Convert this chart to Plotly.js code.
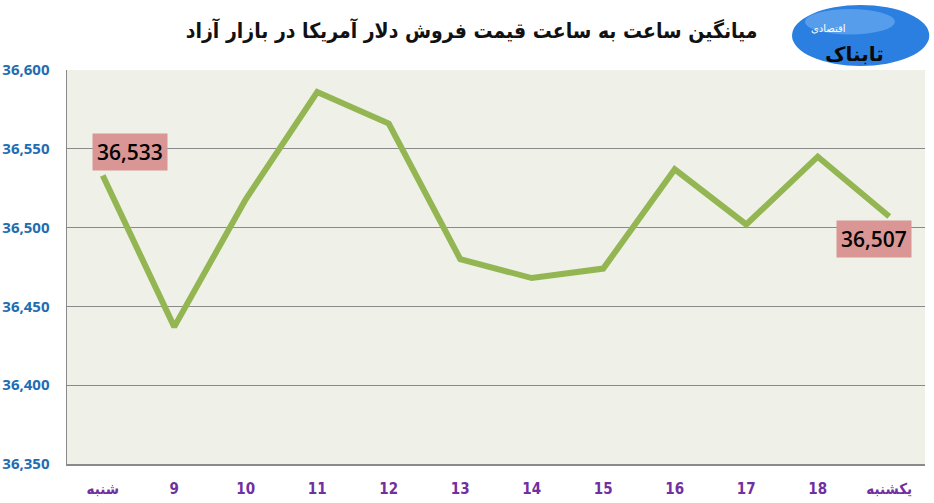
<!DOCTYPE html>
<html>
<head>
<meta charset="utf-8">
<script src="https://cdn.plot.ly/plotly-3.0.1.min.js"></script>
<style>html,body{margin:0;padding:0;background:#fff;}#chart{width:934px;height:503px;}</style>
</head>
<body>
<div id="chart"></div>
<script>
var categories = ["شنبه", "9", "10", "11", "12", "13", "14", "15", "16", "17", "18", "یکشنبه"];
var prices = [36533, 36437, 36518, 36586, 36566, 36480, 36468, 36474, 36537, 36502, 36545, 36507];
var yTicks = [36350, 36400, 36450, 36500, 36550, 36600];
var yTickLabels = ["36,350", "36,400", "36,450", "36,500", "36,550", "36,600"];
var titleText = "میانگین ساعت به ساعت قیمت فروش دلار آمریکا در بازار آزاد";

var trace = {
  x: categories,
  y: prices,
  type: "scatter",
  mode: "lines",
  line: {color: "#93b653", width: 6},
  hoverinfo: "skip"
};

function fmt(v){ return v.toLocaleString("en-US"); }
function bold(s){ return "<b>" + s + "</b>"; }
var last = prices.length - 1;

var layout = {
  width: 934, height: 503,
  margin: {l: 67, r: 9, t: 70, b: 39},
  paper_bgcolor: "#ffffff",
  plot_bgcolor: "#eff1e9",
  showlegend: false,
  title: {
    text: bold(titleText),
    font: {family: "DejaVu Sans Condensed", size: 21, color: "#111"},
    x: 0.505, xanchor: "center", y: 0.94, yanchor: "middle"
  },
  xaxis: {
    type: "category",
    range: [-0.5, 11.5],
    tickvals: categories,
    ticktext: categories.map(bold),
    showgrid: false,
    showline: true, linecolor: "#8a8a8a", linewidth: 1.5,
    ticks: "",
    tickfont: {family: "DejaVu Sans Condensed", size: 15, color: "#7030a0"},
    ticklabelstandoff: 10,
    zeroline: false
  },
  yaxis: {
    range: [36350, 36600],
    tickvals: yTicks,
    ticktext: yTickLabels.map(bold),
    showgrid: true, gridcolor: "#8a8a8a", gridwidth: 1,
    showline: true, linecolor: "#8a8a8a", linewidth: 1.5,
    ticks: "",
    ticklabelstandoff: 13,
    tickfont: {family: "Open Sans", size: 15, color: "#1f6db2"},
    zeroline: false
  },
  annotations: [
    {x: 0, y: prices[0], xref: "x", yref: "y", text: fmt(prices[0]), showarrow: false,
     xshift: 27, yshift: 24, bgcolor: "#d99694", borderpad: 4,
     font: {family: "Open Sans", size: 21, color: "#000", weight: 600}},
    {x: last, y: prices[last], xref: "x", yref: "y", text: fmt(prices[last]), showarrow: false,
     xshift: -15, yshift: -22, bgcolor: "#d99694", borderpad: 4,
     font: {family: "Open Sans", size: 21, color: "#000", weight: 600}},
    {x: 0.955, y: 1.075, xref: "paper", yref: "paper", text: "<b>تابناک</b>", showarrow: false,
     font: {family: "DejaVu Sans", size: 20, color: "#0a0a0a"}},
    {x: 0.91, y: 1.125, xref: "paper", yref: "paper", text: "اقتصادی", showarrow: false,
     font: {family: "DejaVu Sans", size: 10, color: "#ffffff"}}
  ],
  shapes: [
    {type: "circle", xref: "paper", yref: "paper", x0: 0.845, x1: 1.005, y0: 1.01, y1: 1.165,
     fillcolor: "#2b7fe0", line: {width: 0}, layer: "above"},
    {type: "circle", xref: "paper", yref: "paper", x0: 0.86, x1: 0.965, y0: 1.09, y1: 1.155,
     fillcolor: "#7ab8f5", line: {width: 0}, layer: "above", opacity: 0.55}
  ]
};

Plotly.newPlot("chart", [trace], layout, {displayModeBar: false, staticPlot: true});
</script>
</body>
</html>
